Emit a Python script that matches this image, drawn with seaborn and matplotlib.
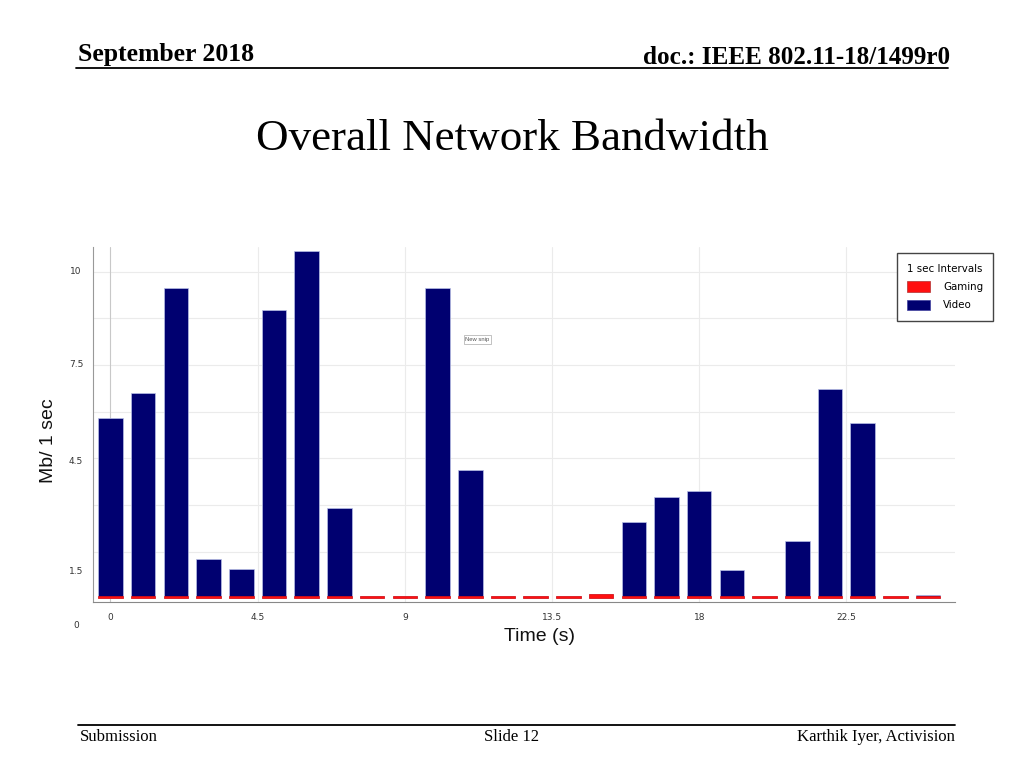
import matplotlib
matplotlib.use("Agg")
import matplotlib.pyplot as plt
import seaborn as sns
import pandas as pd
from matplotlib.patches import Patch
from matplotlib.lines import Line2D

# values (Mb per 1 s interval)
time_s = list(range(26))
video = [5.47, 6.24, 9.45, 1.16, 0.84, 8.77, 10.57, 2.67, 0, 0, 9.45, 3.86, 0, 0,
         0, 0, 2.28, 3.02, 3.23, 0.81, 0, 1.70, 6.32, 5.31, 0, 0.05]
gaming = [0.06, 0.06, 0.06, 0.06, 0.06, 0.06, 0.06, 0.09, 0.06, 0.06, 0.06, 0.07, 0.06, 0.06,
          0.08, 0.14, 0.06, 0.09, 0.06, 0.06, 0.06, 0.06, 0.08, 0.07, 0.06, 0.07]

xtick_vals = [0, 4.5, 9, 13.5, 18, 22.5]
xtick_labels = ["0", "4.5", "9", "13.5", "18", "22.5"]
# the screenshot's y labels don't sit on its grid, keep them where they appear
ytick_labels = ["10", "7.5", "4.5", "1.5", "0"]
ytick_pos = [10.0, 7.17, 4.20, 0.84, -0.82]
ygrid = [k * 10 / 7 for k in range(1, 8)]

df = pd.DataFrame({"time": time_s, "video": video, "gaming": gaming})
df["total"] = df["video"] + df["gaming"]

sns.set_style("white")
plt.rcParams["font.family"] = ["Liberation Sans", "DejaVu Sans"]
plt.rcParams["text.color"] = "black"

fig = plt.figure(figsize=(10.24, 7.68), dpi=100)
ax = fig.add_axes([0.0911, 0.2161, 0.8415, 0.4627])

# stacked bars: total in navy, gaming drawn over the bottom in red
sns.barplot(data=df, x="time", y="total", native_scale=True, color="#000070",
            saturation=1, width=0.75, edgecolor="#b8bfe6", linewidth=0.5, ax=ax)
sns.barplot(data=df, x="time", y="gaming", native_scale=True, color="#ff1010",
            saturation=1, width=0.75, edgecolor="#e01010", linewidth=0.5, ax=ax)

ax.set_xlim(-0.526, 25.82)
ax.set_ylim(-0.11, 10.77)

for g in ygrid:
    ax.axhline(g, color="#ebebeb", lw=0.8, zorder=0)
for v in xtick_vals:
    ax.axvline(v, color="#c8c8c8" if v == 0 else "#ebebeb", lw=0.8, zorder=0)

ax.set_xticks(xtick_vals)
ax.set_xticklabels(xtick_labels, family="DejaVu Sans")
ax.set_xticks([v + 1.5 for v in xtick_vals] + [v + 3 for v in xtick_vals], minor=True)
ax.set_yticks(ygrid)
ax.set_yticklabels([])
ax.tick_params(axis="x", which="major", length=3, width=0.6, color="#555555",
               labelsize=6.5, labelcolor="#333333", pad=5)
ax.tick_params(axis="x", which="minor", length=2, width=0.5, color="#999999")
ax.tick_params(axis="y", length=3, width=0.5, color="#aaaaaa")

ytf = ax.get_yaxis_transform()
for lab, pos in zip(ytick_labels, ytick_pos):
    ax.text(-0.02, pos, lab, transform=ytf, ha="center", va="center", family="DejaVu Sans",
            fontsize=6.5, color="#333333", clip_on=False)

ax.set_xlabel("Time (s)", fontsize=14, color="#111111")
ax.xaxis.set_label_coords(0.518, -0.072)
ax.set_ylabel("Mb/ 1 sec", fontsize=14, color="#111111")
ax.yaxis.set_label_coords(-0.042, 0.453)

sns.despine(ax=ax)
ax.spines["left"].set_color("#999999")
ax.spines["left"].set_linewidth(0.8)
ax.spines["bottom"].set_color("#888888")
ax.spines["bottom"].set_linewidth(0.8)

handles = [Patch(facecolor="#ff1010", edgecolor="#b03030", lw=0.5),
           Patch(facecolor="#000070", edgecolor="#4040a0", lw=0.5)]
leg = fig.legend(handles, ["Gaming", "Video"], title="1 sec Intervals",
                 loc="upper left", bbox_to_anchor=(896.7 / 1024, 1 - 253.3 / 768),
                 borderaxespad=0, prop={"family": "DejaVu Sans", "size": 7.4},
                 title_fontproperties={"family": "DejaVu Sans", "size": 7.4},
                 handlelength=2.2, handleheight=1.2, labelspacing=0.75,
                 handletextpad=1.3, borderpad=1.0,
                 fancybox=False, edgecolor="#444444", framealpha=1)
leg.get_frame().set_linewidth(1.0)

# screenshot artifact left on the slide
fig.text(477.5 / 1024, 1 - 339.5 / 768, "New snip", fontsize=4.2, color="#555555",
         ha="center", va="center",
         bbox=dict(boxstyle="square,pad=0.3", fc="white", ec="#aaaaaa", lw=0.5))

# slide header, title and footer
fig.text(78 / 1024, 1 - 54 / 768, "September 2018", family="Liberation Serif",
         weight="bold", fontsize=18.5, ha="left", va="center")
fig.text(950 / 1024, 1 - 58 / 768, "doc.: IEEE 802.11-18/1499r0", family="Liberation Serif",
         weight="bold", fontsize=18.1, ha="right", va="center")
fig.add_artist(Line2D([76 / 1024, 948 / 1024], [1 - 68 / 768, 1 - 68 / 768],
                      color="black", lw=1.3))
fig.text(0.5, 1 - 139 / 768, "Overall Network Bandwidth", family="Liberation Serif",
         fontsize=32.4, ha="center", va="center")
fig.add_artist(Line2D([78 / 1024, 955 / 1024], [1 - 724.5 / 768, 1 - 724.5 / 768],
                      color="black", lw=1.3))
fig.text(80 / 1024, 1 - 737 / 768, "Submission", family="Liberation Serif",
         fontsize=12, ha="left", va="center")
fig.text(0.5, 1 - 737 / 768, "Slide 12", family="Liberation Serif",
         fontsize=12, ha="center", va="center")
fig.text(955 / 1024, 1 - 737 / 768, "Karthik Iyer, Activision", family="Liberation Serif",
         fontsize=12, ha="right", va="center")

fig.savefig("out.png", dpi=100)
